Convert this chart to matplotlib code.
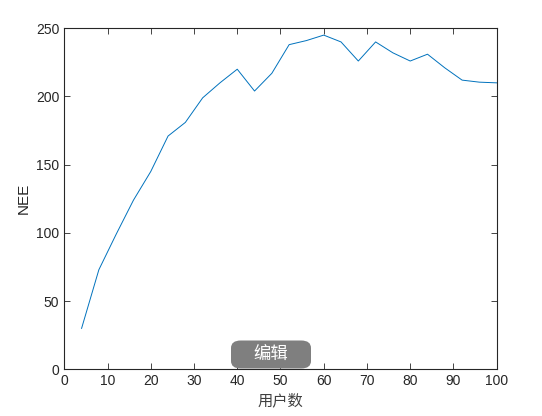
import matplotlib
matplotlib.use("Agg")
import matplotlib.pyplot as plt
from matplotlib.patches import FancyBboxPatch

# users vs NEE
users = [4, 8, 12, 16, 20, 24, 28, 32, 36, 40, 44, 48, 52,
         56, 60, 64, 68, 72, 76, 80, 84, 88, 92, 96, 100]
nee = [30, 73, 99, 124, 145, 171, 181, 199, 210, 220, 204, 217, 238,
       241, 245, 240, 226, 240, 232, 226, 231, 221, 212, 210.5, 210]

x_ticks = list(range(0, 101, 10))
y_ticks = [0, 50, 100, 150, 200, 250]

plt.rcParams['font.family'] = ['Liberation Sans', 'Noto Sans CJK SC', 'DejaVu Sans']

fig = plt.figure(figsize=(5.42, 4.16), dpi=100)
ax = fig.add_axes([0.1186, 0.1123, 0.7978, 0.8197])

ax.plot(users, nee, color='#0072BD', linewidth=0.7)

ax.set_xlim(0, 100)
ax.set_ylim(0, 250)
ax.set_xticks(x_ticks)
ax.set_yticks(y_ticks)
ax.tick_params(direction='in', length=4, width=0.6, colors='#262626',
               labelsize=10, top=True, right=True, labeltop=False, labelright=False)
for s in ax.spines.values():
    s.set_color('#262626')
    s.set_linewidth(0.8)

ax.set_xlabel('用户数', fontsize=11, color='#404040',
              family=['Noto Sans CJK SC', 'DejaVu Sans'], labelpad=3)
ax.set_ylabel('NEE', fontsize=11, color='#262626', labelpad=4)

# the grey "edit" button overlay
btn = FancyBboxPatch((231 / 542, 1 - 368.5 / 416), 80 / 542, 28 / 416,
                     boxstyle='round,pad=0,rounding_size=0.018',
                     transform=fig.transFigure, facecolor='#7f7f7f',
                     edgecolor='none', zorder=5)
fig.patches.append(btn)
fig.text(270.5 / 542, 1 - 355 / 416, '编辑', color='white', fontsize=12.5,
         ha='center', va='center', family=['Noto Sans CJK SC', 'DejaVu Sans'],
         zorder=6)

fig.savefig('out.png', dpi=100)
